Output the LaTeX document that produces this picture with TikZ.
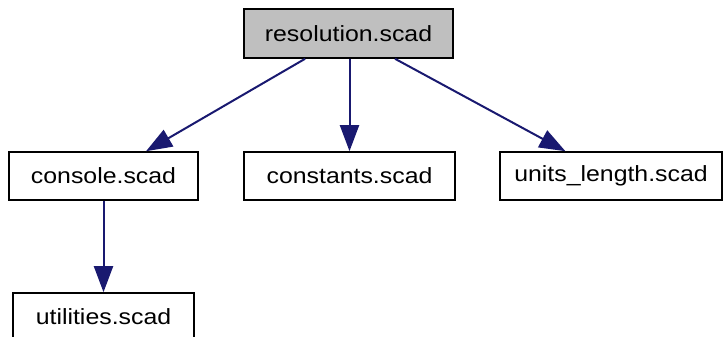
\documentclass[tikz,border=0pt]{standalone}
\usepackage{fontspec}
\setmainfont[FakeStretch=1.13]{Liberation Sans}
\usetikzlibrary{arrows.meta}
\definecolor{edgeblue}{RGB}{25,25,112}
\begin{document}
\begin{tikzpicture}[
      x=1pt, y=-1pt,
      every node/.style={font=\fontsize{22}{26}\selectfont},
      file/.style={draw, line width=1.6pt, fill=white, inner sep=0pt,
                   minimum height=48pt},
      dep/.style={draw=edgeblue, line width=2pt,
                  -{Triangle[length=26pt,width=19pt]}}
    ]
    \useasboundingbox (0,0) rectangle (725,337);

    % Arquivo principal
    \node[file, fill=gray!50, minimum width=209pt, minimum height=49pt]
      (resolution) at (348.5,33.5) {resolution.scad};

    % Arquivos incluidos
    \node[file, minimum width=189pt] (console) at (103.5,176) {console.scad};
    \node[file, minimum width=211pt] (constants) at (349.5,176) {constants.scad};
    \node[file, minimum width=222pt] (units) at (611,176) {units\_length.scad};
    \node[file, minimum width=181pt] (utilities) at (103.5,317) {utilities.scad};

    % Dependencias
    \draw[dep] (resolution) -- (console);
    \draw[dep] (resolution.south -| constants) -- (constants);
    \draw[dep] (resolution) -- (units);
    \draw[dep] (console) -- (utilities);
  \end{tikzpicture}
\end{document}
